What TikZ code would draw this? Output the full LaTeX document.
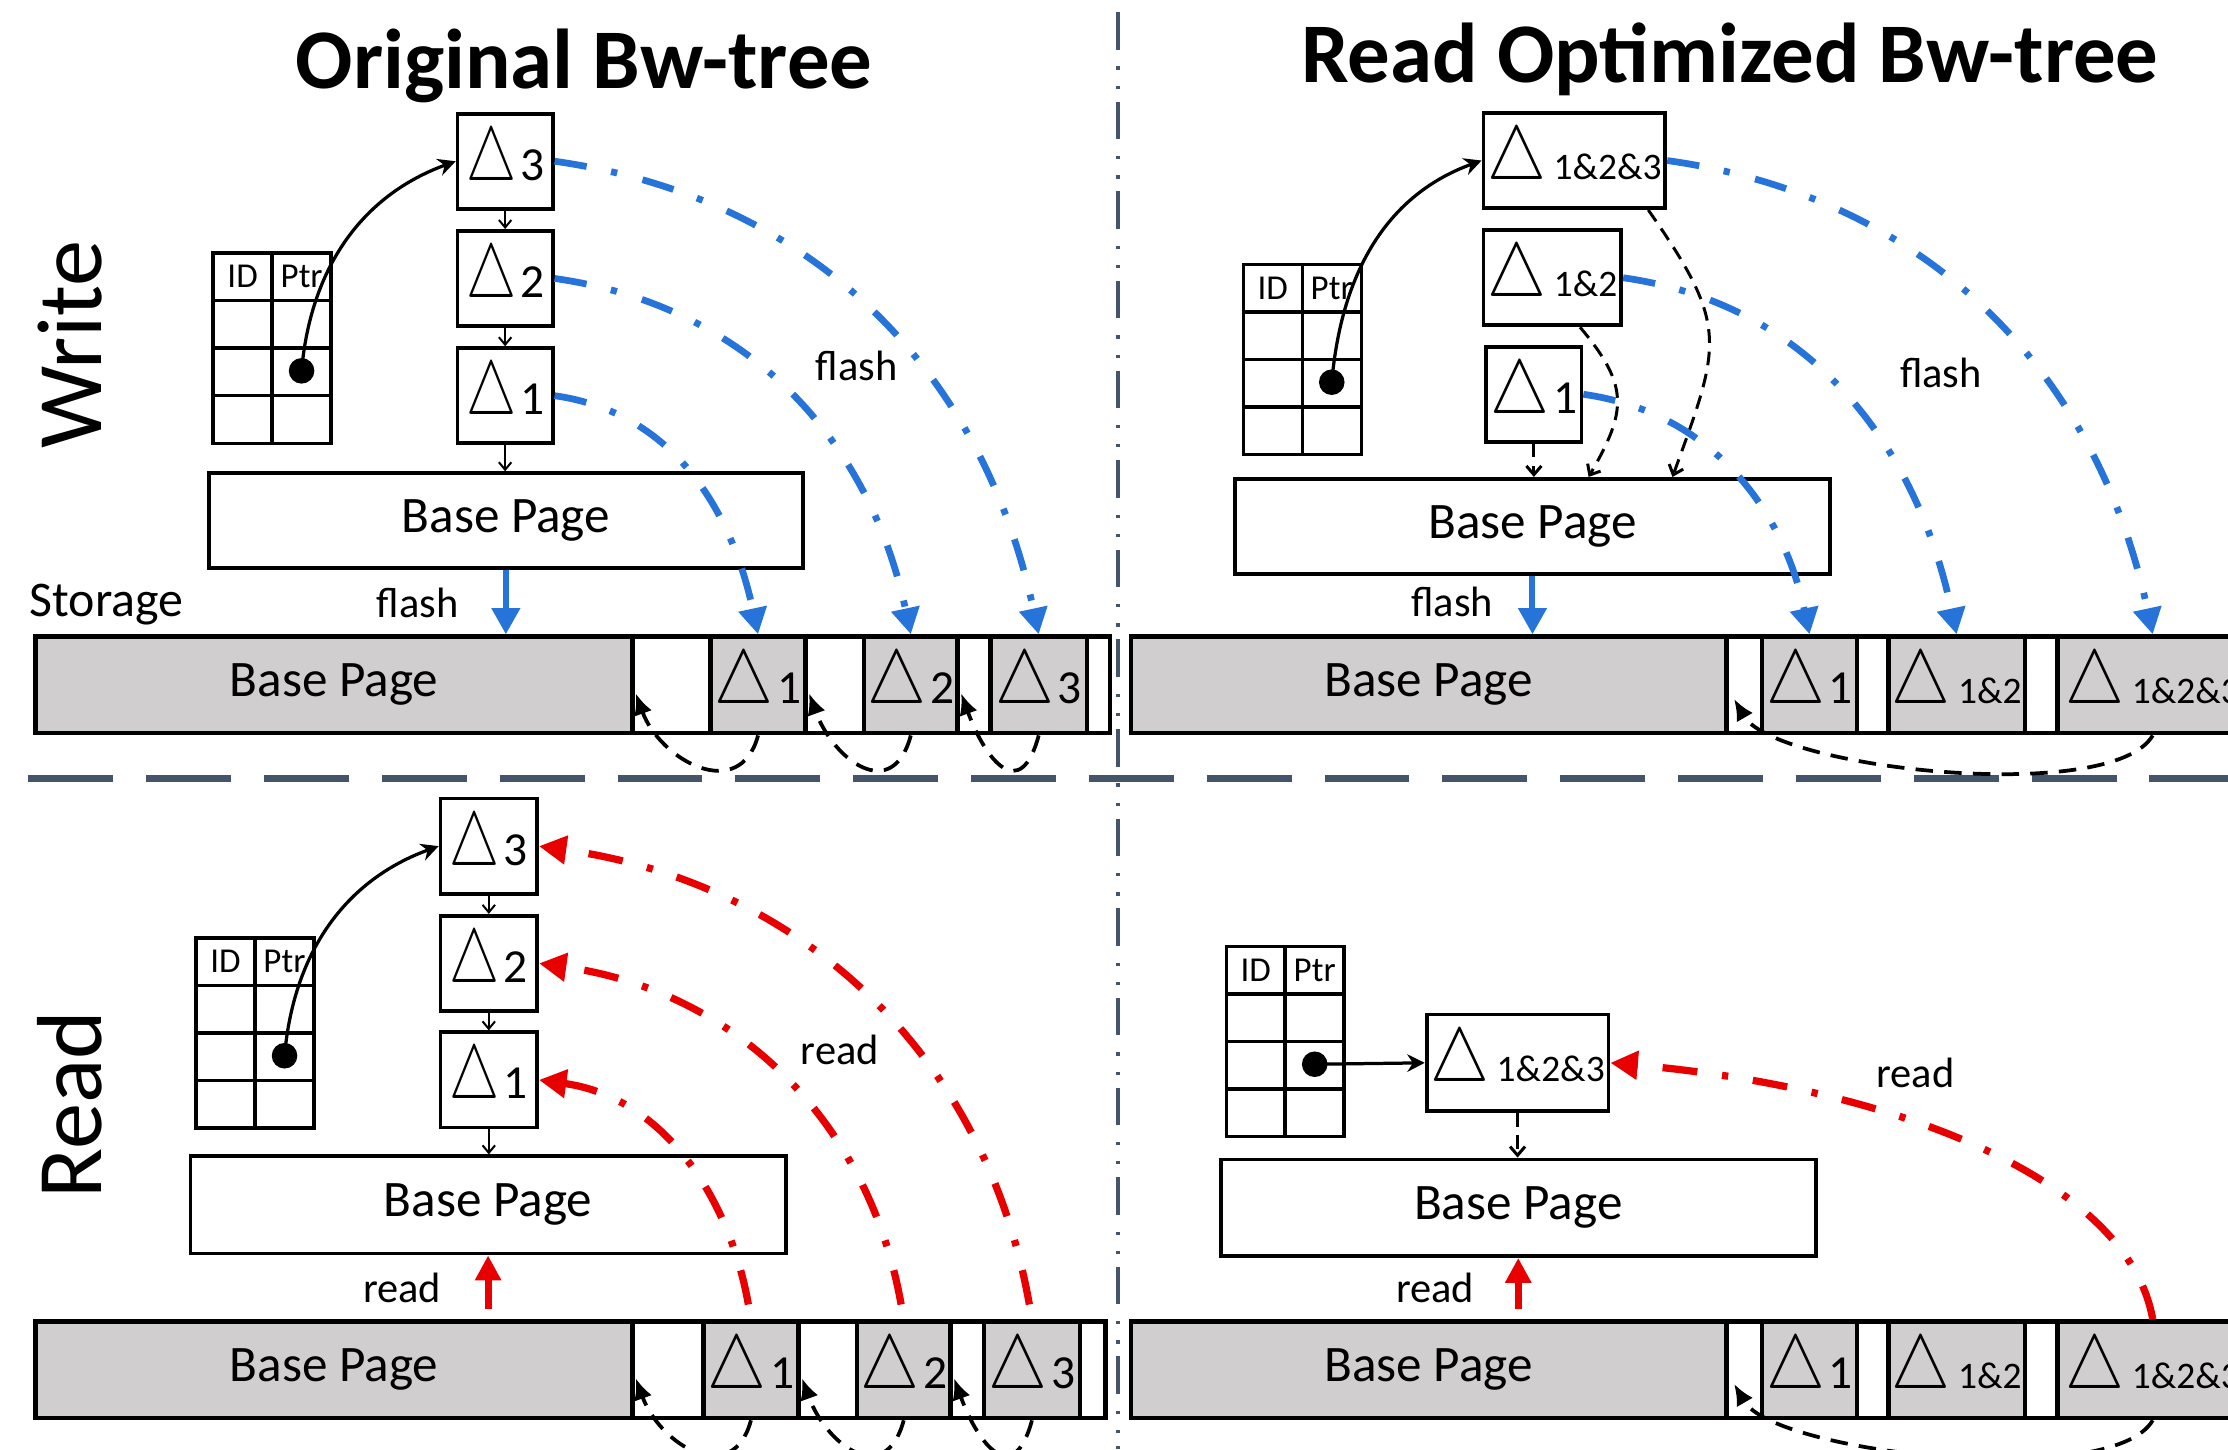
\RequirePackage{fix-cm}
\documentclass[tikz,border=0pt]{standalone}
\usepackage{graphicx}
\usepackage{fontspec}
\setmainfont{Carlito}
\usetikzlibrary{arrows.meta}
\definecolor{flashblue}{RGB}{38,115,217}
\definecolor{readred}{RGB}{232,0,0}
\definecolor{pagegray}{RGB}{208,206,206}
\definecolor{sepgray}{RGB}{68,84,106}
\newcommand\tri[1]{\scalebox{#1}[1]{\fontsize{30.5}{30.5}\selectfont$\triangle$}}
\newcommand\dbig[2][.87]{\tri{#1}\hspace{1.5pt}{\fontsize{19}{19}\selectfont#2}}
\newcommand\dsub[1]{\tri{.87}\hspace{3pt}{\fontsize{15}{15}\selectfont#1}}
\begin{document}
\begin{tikzpicture}[x=.02cm, y=.02cm,
 box/.style={draw, line width=1.5pt, minimum height=1.34cm, inner sep=0pt, font=\fontsize{20.5}{22}\selectfont},
 cell/.style={draw, line width=1.8pt, minimum height=1.36cm, inner sep=0pt, font=\fontsize{20.5}{22}\selectfont},
 lbl/.style={anchor=base, font=\fontsize{17}{17}\selectfont},
 dot/.style={circle, fill, inner sep=0pt, minimum size=.36cm},
 ptr/.style={line width=1.3pt, -{Stealth[length=7pt,width=7pt]}},
 chain/.style={line width=.8pt, -{Straight Barb[length=3pt,width=5pt]}},
 link/.style={line width=1.2pt, dash pattern=on 5.5pt off 3.5pt, -{Straight Barb[length=3.5pt,width=6pt]}},
 back/.style={line width=1.5pt, dash pattern=on 7pt off 4.5pt, -{Latex[length=8.5pt,width=7.5pt]}},
 flash/.style={flashblue, line width=2.7pt, dash pattern=on 13pt off 10pt on 2.5pt off 10.5pt, -{Triangle[length=10.5pt,width=11pt]}},
 flashdown/.style={flashblue, line width=2.4pt, -{Triangle[length=10.5pt,width=11pt]}},
 read/.style={readred, line width=2.9pt, dash pattern=on 14pt off 10pt on 2.5pt off 10pt, -{Triangle[length=11pt,width=11pt]}},
 readup/.style={readred, line width=2.8pt, -{Triangle[length=10pt,width=10pt]}},
 idtab/.pic={
  \draw[line width=1.4pt] (0,0) rectangle (83,-134) (41.5,0) -- (41.5,-134)
   (0,-33.5) -- (83,-33.5) (0,-67) -- (83,-67) (0,-100.5) -- (83,-100.5);
  \node[font=\fontsize{14}{14}\selectfont] (-id) at (20.75,-16.75) {ID};
  \node[font=\fontsize{14}{14}\selectfont] (-ptr) at (62.25,-16.75) {Ptr};
  \node[dot] (-dot) at (62.25,-83) {};
 }]
\useasboundingbox (0,0) rectangle (1568,1020);
\clip (0,0) rectangle (1568,1020);

\node[anchor=base, font=\fontsize{34}{40}\selectfont\bfseries] (t1) at (411,958) {Original Bw-tree};
\node[anchor=base, font=\fontsize{34}{40}\selectfont\bfseries] (t2) at (1217.5,962) {Read Optimized Bw-tree};
\node[rotate=90, font=\fontsize{37}{40}\selectfont] (rw) at (49,777.5) {Write};
\node[rotate=90, font=\fontsize{37}{40}\selectfont] (rr) at (49,242.7) {Read};
\draw[sepgray, line width=2.7pt, dash pattern=on 34pt off 13.2pt] (20,472) -- (1568,472);
\draw[sepgray, line width=1.5pt, dash pattern=on 15pt off 6.8pt on 1.3pt off 6.4pt on 1.3pt off 5.1pt] (787,1011.5) -- (787,0);

% write, original
\foreach \i/\y in {3/906.5,2/824,1/741.5} \node[box, minimum width=1.34cm] (wd\i) at (355.5,\y) {\dbig[.74]{\i}};
\node[box, minimum width=8.36cm] (wbp) at (356,653.5) {Base Page};
\foreach \p/\q in {wd3/wd2,wd2/wd1,wd1/wbp} \draw[chain] (\p.south) -- (\p.south |- \q.north);
\pic (wt) at (150,842) {idtab};
\draw[ptr] (wt-dot.center) to[out=85,in=200] (wd3.west);
\foreach \n/\lft/\rgt/\col/\lab in {wsb/25/445/pagegray/Base Page, wg0/445/500/white/, wc1/500/567/pagegray/\dbig{1},
  wg1/567/608/white/, wc2/608/674/pagegray/\dbig{2}, wg2/674/697/white/, wc3/697/765/pagegray/\dbig{3}, wg3/765/781/white/}
  \node[cell, fill=\col, minimum width={(\rgt-\lft)*.02cm}] (\n) at ({(\lft+\rgt)/2},538) {\lab};
\node[anchor=base, font=\fontsize{20}{20}\selectfont] (wst) at (75,586) {Storage};
\draw[flashdown] (wbp.south) -- (wbp.south |- wsb.north);
\node[lbl] (wf1) at (294,585.5) {flash};
\node[lbl] (wf2) at (603,752.5) {flash};
\foreach \i in {1,2,3} \draw[flash] (wd\i.east) to[out=-8,in=102] (wc\i.north);
\foreach \cl/\gp in {wc1/wg0,wc2/wg1,wc3/wg2} \draw[back] (\cl.south) .. controls +(-105:50) and +(-70:50) .. ([shift={(4,-6)}]\gp.west);

% write, read optimized
\node[box, minimum width=2.56cm] (od3) at (1108,907) {\dsub{1\&2\&3}};
\node[box, minimum width=1.94cm] (od2) at (1092.5,824.5) {\dsub{1\&2}};
\node[box, minimum width=1.34cm] (od1) at (1079.5,742.5) {\dbig{1}};
\node[box, minimum width=8.38cm] (obp) at (1078.5,649.5) {Base Page};
\pic (ot) at (875,834) {idtab};
\draw[ptr] (ot-dot.center) to[out=85,in=200] (od3.west);
\draw[link] (od1.south) -- (od1.south |- obp.north);
\draw[link] ([shift={(19.5,0)}]od2.south) .. controls +(-50:54) and +(60:54) .. ([shift={(39.5,0)}]obp.north);
\draw[link] ([shift={(52,0)}]od3.south) .. controls +(-55:100) and +(70:100) .. ([shift={(98.5,0)}]obp.north);
\foreach \n/\lft/\rgt/\col/\lab in {osb/796/1215/pagegray/Base Page, og0/1215/1240/white/, oc1/1240/1307/pagegray/\dbig{1},
  og1/1307/1329/white/, oc2/1329/1425/pagegray/\dsub{1\&2}, og2/1425/1448/white/, oc3/1448/1582/pagegray/\dsub{1\&2\&3}}
  \node[cell, fill=\col, minimum width={(\rgt-\lft)*.02cm}] (\n) at ({(\lft+\rgt)/2},538) {\lab};
\draw[flashdown] (obp.south) -- (obp.south |- osb.north);
\node[lbl] (of1) at (1022,586) {flash};
\node[lbl] (of2) at (1366,747) {flash};
\foreach \i in {1,2,3} \draw[flash] (od\i.east) to[out=-8,in=102] (oc\i.north);
\draw[back] (oc3.south) .. controls +(-120:57) and +(-60:57) .. ([shift={(7,-10)}]og0.west);

% read, original
\foreach \i/\y in {3/424.5,2/342,1/260} \node[box, minimum width=1.36cm] (bd\i) at (344,\y) {\dbig[.74]{\i}};
\node[box, minimum width=8.38cm, minimum height=1.37cm] (bbp) at (343.5,172) {Base Page};
\foreach \p/\q in {bd3/bd2,bd2/bd1,bd1/bbp} \draw[chain] (\p.south) -- (\p.south |- \q.north);
\pic (bt) at (138,360) {idtab};
\draw[ptr] (bt-dot.center) to[out=85,in=200] (bd3.west);
\foreach \n/\lft/\rgt/\col/\lab in {bsb/25/445/pagegray/Base Page, bg0/445/495/white/, bc1/495/562/pagegray/\dbig{1},
  bg1/562/603/white/, bc2/603/669/pagegray/\dbig{2}, bg2/669/692.5/white/, bc3/692.5/760/pagegray/\dbig{3}, bg3/760/778/white/}
  \node[cell, fill=\col, minimum width={(\rgt-\lft)*.02cm}] (\n) at ({(\lft+\rgt)/2},56) {\lab};
\draw[readup, shorten <=4pt] (bbp.south |- bsb.north) -- (bbp.south);
\node[lbl] (bl1) at (283,103.5) {read};
\node[lbl] (bl2) at (591,270.5) {read};
\foreach \i in {1,2,3} \draw[read, shorten <=6pt] (bc\i.north) to[out=100,in=-8] (bd\i.east);
\foreach \cl/\gp in {bc1/bg0,bc2/bg1,bc3/bg2} \draw[back] (\cl.south) .. controls +(-105:50) and +(-70:50) .. ([shift={(4,-6)}]\gp.west);

% read, read optimized
\pic (rt) at (863,354) {idtab};
\node[box, minimum width=2.56cm, minimum height=1.36cm] (rd) at (1068,272) {\dsub{1\&2\&3}};
\node[box, minimum width=8.38cm, minimum height=1.36cm] (rbp) at (1068.5,170) {Base Page};
\draw[ptr] (rt-dot.center) -- (rd.west);
\draw[link] (rd.south) -- (rd.south |- rbp.north);
\foreach \n/\lft/\rgt/\col/\lab in {rsb/796/1215/pagegray/Base Page, rg0/1215/1240/white/, rc1/1240/1307/pagegray/\dbig{1},
  rg1/1307/1329/white/, rc2/1329/1425/pagegray/\dsub{1\&2}, rg2/1425/1448/white/, rc3/1448/1582/pagegray/\dsub{1\&2\&3}}
  \node[cell, fill=\col, minimum width={(\rgt-\lft)*.02cm}] (\n) at ({(\lft+\rgt)/2},56) {\lab};
\draw[readup, shorten <=4pt] (rbp.south |- rsb.north) -- (rbp.south);
\node[lbl] (rl1) at (1010,103.5) {read};
\node[lbl] (rl2) at (1348,254.5) {read};
\draw[read] (rc3.north) .. controls +(100:100) and +(-5:200) .. (rd.east);
\draw[back] (rc3.south) .. controls +(-120:57) and +(-60:57) .. ([shift={(7,-10)}]rg0.west);
\end{tikzpicture}
\end{document}
